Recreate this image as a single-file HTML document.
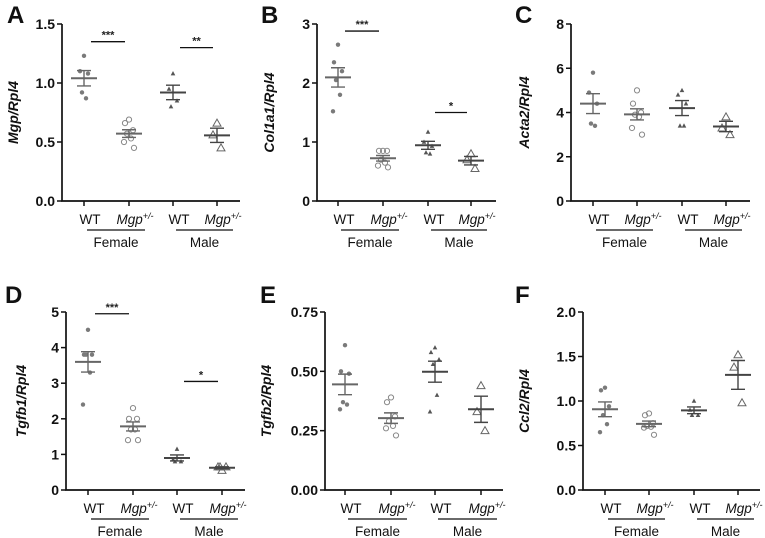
<!DOCTYPE html>
<html><head><meta charset="utf-8"><style>
body{margin:0;background:#fff;}
svg{display:block;font-family:"Liberation Sans",sans-serif;}
</style></head><body>
<svg id="fig" width="765" height="538" viewBox="0 0 765 538" xmlns="http://www.w3.org/2000/svg"></svg>
<script>
// ---- data ----
const groupLabels = ["WT","Mgp","WT","Mgp"];
const sexLabels = ["Female","Male"];
const panelLetters = ["A","B","C","D","E","F"];
const yTitlesA = ["Mgp/Rpl4","Col1a1/Rpl4","Acta2/Rpl4","Tgfb1/Rpl4","Tgfb2/Rpl4","Ccl2/Rpl4"];
const yMax = [1.5,3,8,5,0.75,2.0];
const tickLabelsA = ["0.0","0.5","1.0","1.5"];
const tickLabelsB = ["0","1","2","3"];
const tickLabelsC = ["0","2","4","6","8"];
const tickLabelsD = ["0","1","2","3","4","5"];
const tickLabelsE = ["0.00","0.25","0.50","0.75"];
const tickLabelsF = ["0.0","0.5","1.0","1.5","2.0"];
const ticksAll = [tickLabelsA,tickLabelsB,tickLabelsC,tickLabelsD,tickLabelsE,tickLabelsF];
const valuesA = [[1.23,1.1,1.08,0.92,0.87],[0.69,0.66,0.6,0.57,0.53,0.5,0.45],[1.08,0.95,0.85,0.8],[0.66,0.56,0.45]];
const valuesB = [[2.65,2.35,2.2,2.05,1.8,1.52],[0.85,0.85,0.85,0.7,0.65,0.6,0.57],[1.17,1.0,0.93,0.82,0.8],[0.8,0.7,0.55]];
const valuesC = [[5.8,4.9,4.4,3.5,3.4],[5.0,4.4,4.0,3.9,3.8,3.3,3.0],[5.0,4.8,4.4,3.4,3.4],[3.8,3.3,3.0]];
const valuesD = [[4.5,3.8,3.8,3.8,3.3,2.4],[2.3,2.0,2.0,1.7,1.7,1.4,1.4],[1.15,0.85,0.8,0.8],[0.55,0.65,0.65,0.65]];
const valuesE = [[0.61,0.5,0.49,0.37,0.36,0.34],[0.39,0.37,0.31,0.29,0.27,0.26,0.23],[0.6,0.58,0.55,0.53,0.4,0.33],[0.44,0.33,0.25]];
const valuesF = [[1.15,1.12,0.94,0.84,0.74,0.65],[0.86,0.84,0.75,0.72,0.71,0.7,0.62],[1.0,0.9,0.84,0.84],[1.52,1.38,0.98]];
const valuesAll = [valuesA,valuesB,valuesC,valuesD,valuesE,valuesF];
// significance: [panel, fromGroup, toGroup, yValue, label]
const sigPanel = [0,0,1,1,3,3];
const sigFrom = [0,2,0,2,0,2];
const sigTo = [1,3,1,3,1,3];
const sigY = [1.35,1.3,2.88,1.5,4.95,3.05];
const sigText = ["***","**","***","*","***","*"];

// ---- layout ----
const layout = [
 {ax:62,top:24,bot:201,end:240,lx:7,ly:23,tx:13,g:[84,129,173,217]},
 {ax:317,top:24,bot:201,end:496,lx:261,ly:23,tx:269,g:[338,383,428,471]},
 {ax:571,top:24,bot:201,end:750,lx:515,ly:23,tx:524,g:[593,637,682,726]},
 {ax:66,top:312,bot:490,end:245,lx:5,ly:303,tx:21,g:[88,133,177,222]},
 {ax:325,top:312,bot:490,end:503,lx:260,ly:303,tx:266,g:[345,391,435,481]},
 {ax:583,top:312,bot:490,end:760,lx:515,ly:303,tx:524,g:[605,649,694,738]}
];
const svg = document.getElementById('fig');
const NS = "http://www.w3.org/2000/svg";
function mk(tag, attrs, parent){const e=document.createElementNS(NS,tag);for(const k in attrs)e.setAttribute(k,attrs[k]);(parent||svg).appendChild(e);return e;}
const jit = [0,-4,4,-2,2,-5,5];
const colors = ["#7a7a7a","#888","#555","#666"];

layout.forEach((L,p)=>{
  const g = mk('g',{});
  
  
  const y = v => L.bot - v/yMax[p]*(L.bot-L.top);
  const lt = mk('text',{x:L.lx,y:L.ly,'font-size':24,'font-weight':'bold',fill:'#111'},g); lt.textContent=panelLetters[p];
   
  const yt = mk('text',{x:0,y:0,transform:`translate(${L.tx+5},${(L.top+L.bot)/2}) rotate(-90)`,'text-anchor':'middle','font-size':14,'font-weight':'bold','font-style':'italic',fill:'#111'},g);
  yt.textContent=yTitlesA[p];
   
  const axl = mk('path',{d:`M${L.ax},${L.top}V${L.bot}H${L.end}`,stroke:'#111','stroke-width':1.7,fill:'none'},g);
   
  const tl = ticksAll[p];
  tl.forEach((t,i)=>{
    const v = i*yMax[p]/(tl.length-1); const yy=y(v);
    mk('line',{x1:L.ax-5,x2:L.ax,y1:yy,y2:yy,stroke:'#111','stroke-width':1.5},g);
    const tx = mk('text',{x:L.ax-7,y:yy+5,'text-anchor':'end','font-size':14,'font-weight':'bold',fill:'#111'},g);
    tx.textContent=t;
     
  });
  L.g.forEach((gx,i)=>{
    mk('line',{x1:gx,x2:gx,y1:L.bot,y2:L.bot+5,stroke:'#111','stroke-width':1.5},g);
    const t = mk('text',{x:gx+6,y:L.bot+23,'text-anchor':'middle','font-size':13.5,fill:'#111'},g);
    if(groupLabels[i]==='Mgp'){t.setAttribute('font-style','italic');t.innerHTML='Mgp<tspan dy="-5" font-size="9">+/-</tspan>';}
    else t.textContent=groupLabels[i];
     
  });
  for(let s=0;s<2;s++){
    const x1=L.g[2*s]+3, x2=L.g[2*s+1]+16;
    mk('line',{x1:x1,x2:x2,y1:L.bot+29,y2:L.bot+29,stroke:'#111','stroke-width':1.3},g);
    const st=mk('text',{x:(x1+x2)/2,y:L.bot+46,'text-anchor':'middle','font-size':13.5,fill:'#111'},g);
    st.textContent=sexLabels[s];
     
  }
  valuesAll[p].forEach((vals,gi)=>{
    const gx=L.g[gi]; const c=colors[gi];
    vals.forEach((v,k)=>{
      const px=gx+jit[k%jit.length], py=y(v); let m;
      if(gi===0) m=mk('circle',{cx:px,cy:py,r:2.2,fill:c},g);
      else if(gi===1) m=mk('circle',{cx:px,cy:py,r:2.6,fill:'none',stroke:c,'stroke-width':1},g);
      else if(gi===2) m=mk('path',{d:`M${px},${py-2.5}L${px+2.3},${py+1.8}L${px-2.3},${py+1.8}Z`,fill:c},g);
      else m=mk('path',{d:`M${px},${py-4}L${px+4},${py+3}L${px-4},${py+3}Z`,fill:'none',stroke:c,'stroke-width':1},g);
       
    });
    const n=vals.length, mean=vals.reduce((a,b)=>a+b,0)/n;
    const sd=Math.sqrt(vals.reduce((a,b)=>a+(b-mean)*(b-mean),0)/(n-1)); const se=sd/Math.sqrt(n);
    const ml=mk('line',{x1:gx-13,x2:gx+13,y1:y(mean),y2:y(mean),stroke:gi>=2?'#444':'#666','stroke-width':2},g);
     
    const eb=mk('path',{d:`M${gx},${y(mean+se)}V${y(mean-se)}M${gx-7},${y(mean+se)}H${gx+7}M${gx-7},${y(mean-se)}H${gx+7}`,stroke:gi>=2?'#444':'#666','stroke-width':1.4,fill:'none'},g);
     
  });
});
sigPanel.forEach((p,i)=>{
  const L=layout[p]; const y=v=>L.bot - v/yMax[p]*(L.bot-L.top);
  const x1=L.g[sigFrom[i]]+7, x2=L.g[sigTo[i]]-4, yy=y(sigY[i]);
  const b=mk('line',{x1:x1,x2:x2,y1:yy,y2:yy,stroke:'#111','stroke-width':1.3});
   
  const t=mk('text',{x:(x1+x2)/2,y:yy-3,'text-anchor':'middle','font-size':11,'font-weight':'bold',fill:'#222'});
  t.textContent=sigText[i];
   
});
</script>
</body></html>
